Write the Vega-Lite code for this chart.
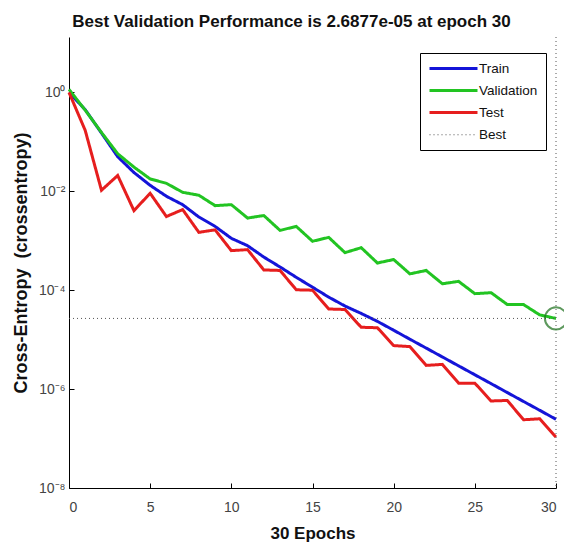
{
  "$schema": "https://vega.github.io/schema/vega-lite/v6.json",
  "width": 487,
  "height": 451,
  "autosize": "none",
  "padding": {"left": 69, "top": 37, "right": 8, "bottom": 58},
  "config": {
    "view": {"stroke": null},
    "font": "Liberation Sans",
    "axis": {
      "grid": false,
      "domainColor": "#000",
      "domainWidth": 1,
      "tickColor": "#000",
      "tickSize": -5,
      "labelFont": "Liberation Sans",
      "labelFontSize": 14,
      "labelColor": "#444",
      "titleFont": "Liberation Sans",
      "titleFontSize": 17,
      "titleFontWeight": "bold",
      "titleColor": "#111"
    }
  },
  "title": {
    "text": "Best Validation Performance is 2.6877e-05 at epoch 30",
    "font": "Liberation Sans",
    "fontSize": 17,
    "fontWeight": "bold",
    "color": "#111",
    "anchor": "middle",
    "dx": -21,
    "offset": 6
  },
  "datasets": {
    "perf": [
      {"series": "Train", "epoch": 0, "value": 1},
      {"series": "Train", "epoch": 1, "value": 0.447},
      {"series": "Train", "epoch": 2, "value": 0.151},
      {"series": "Train", "epoch": 3, "value": 0.0501},
      {"series": "Train", "epoch": 4, "value": 0.024},
      {"series": "Train", "epoch": 5, "value": 0.0132},
      {"series": "Train", "epoch": 6, "value": 0.00794},
      {"series": "Train", "epoch": 7, "value": 0.00537},
      {"series": "Train", "epoch": 8, "value": 0.00302},
      {"series": "Train", "epoch": 9, "value": 0.00195},
      {"series": "Train", "epoch": 10, "value": 0.00112},
      {"series": "Train", "epoch": 11, "value": 0.000794},
      {"series": "Train", "epoch": 12, "value": 0.000468},
      {"series": "Train", "epoch": 13, "value": 0.000295},
      {"series": "Train", "epoch": 14, "value": 0.000182},
      {"series": "Train", "epoch": 15, "value": 0.000115},
      {"series": "Train", "epoch": 16, "value": 7.24e-5},
      {"series": "Train", "epoch": 17, "value": 4.79e-5},
      {"series": "Train", "epoch": 18, "value": 3.39e-5},
      {"series": "Train", "epoch": 19, "value": 2.34e-5},
      {"series": "Train", "epoch": 20, "value": 1.55e-5},
      {"series": "Train", "epoch": 21, "value": 1.02e-5},
      {"series": "Train", "epoch": 22, "value": 6.76e-6},
      {"series": "Train", "epoch": 23, "value": 4.47e-6},
      {"series": "Train", "epoch": 24, "value": 2.95e-6},
      {"series": "Train", "epoch": 25, "value": 1.95e-6},
      {"series": "Train", "epoch": 26, "value": 1.29e-6},
      {"series": "Train", "epoch": 27, "value": 8.51e-7},
      {"series": "Train", "epoch": 28, "value": 5.62e-7},
      {"series": "Train", "epoch": 29, "value": 3.72e-7},
      {"series": "Train", "epoch": 30, "value": 2.45e-7},
      {"series": "Validation", "epoch": 0, "value": 1.15},
      {"series": "Validation", "epoch": 1, "value": 0.437},
      {"series": "Validation", "epoch": 2, "value": 0.155},
      {"series": "Validation", "epoch": 3, "value": 0.0575},
      {"series": "Validation", "epoch": 4, "value": 0.0309},
      {"series": "Validation", "epoch": 5, "value": 0.0178},
      {"series": "Validation", "epoch": 6, "value": 0.0145},
      {"series": "Validation", "epoch": 7, "value": 0.00955},
      {"series": "Validation", "epoch": 8, "value": 0.00832},
      {"series": "Validation", "epoch": 9, "value": 0.00513},
      {"series": "Validation", "epoch": 10, "value": 0.00537},
      {"series": "Validation", "epoch": 11, "value": 0.00288},
      {"series": "Validation", "epoch": 12, "value": 0.00324},
      {"series": "Validation", "epoch": 13, "value": 0.00162},
      {"series": "Validation", "epoch": 14, "value": 0.00195},
      {"series": "Validation", "epoch": 15, "value": 0.000977},
      {"series": "Validation", "epoch": 16, "value": 0.00117},
      {"series": "Validation", "epoch": 17, "value": 0.000575},
      {"series": "Validation", "epoch": 18, "value": 0.000724},
      {"series": "Validation", "epoch": 19, "value": 0.000355},
      {"series": "Validation", "epoch": 20, "value": 0.000417},
      {"series": "Validation", "epoch": 21, "value": 0.000214},
      {"series": "Validation", "epoch": 22, "value": 0.000251},
      {"series": "Validation", "epoch": 23, "value": 0.000135},
      {"series": "Validation", "epoch": 24, "value": 0.000151},
      {"series": "Validation", "epoch": 25, "value": 8.51e-5},
      {"series": "Validation", "epoch": 26, "value": 8.91e-5},
      {"series": "Validation", "epoch": 27, "value": 5.13e-5},
      {"series": "Validation", "epoch": 28, "value": 5.13e-5},
      {"series": "Validation", "epoch": 29, "value": 3.16e-5},
      {"series": "Validation", "epoch": 30, "value": 2.6877e-5},
      {"series": "Test", "epoch": 0, "value": 1},
      {"series": "Test", "epoch": 1, "value": 0.17},
      {"series": "Test", "epoch": 2, "value": 0.0105},
      {"series": "Test", "epoch": 3, "value": 0.0209},
      {"series": "Test", "epoch": 4, "value": 0.00407},
      {"series": "Test", "epoch": 5, "value": 0.00912},
      {"series": "Test", "epoch": 6, "value": 0.00309},
      {"series": "Test", "epoch": 7, "value": 0.00427},
      {"series": "Test", "epoch": 8, "value": 0.00148},
      {"series": "Test", "epoch": 9, "value": 0.00166},
      {"series": "Test", "epoch": 10, "value": 0.000631},
      {"series": "Test", "epoch": 11, "value": 0.000661},
      {"series": "Test", "epoch": 12, "value": 0.000257},
      {"series": "Test", "epoch": 13, "value": 0.000251},
      {"series": "Test", "epoch": 14, "value": 0.000102},
      {"series": "Test", "epoch": 15, "value": 0.0001},
      {"series": "Test", "epoch": 16, "value": 4.17e-5},
      {"series": "Test", "epoch": 17, "value": 4.07e-5},
      {"series": "Test", "epoch": 18, "value": 1.78e-5},
      {"series": "Test", "epoch": 19, "value": 1.74e-5},
      {"series": "Test", "epoch": 20, "value": 7.59e-6},
      {"series": "Test", "epoch": 21, "value": 7.24e-6},
      {"series": "Test", "epoch": 22, "value": 3.02e-6},
      {"series": "Test", "epoch": 23, "value": 3.16e-6},
      {"series": "Test", "epoch": 24, "value": 1.32e-6},
      {"series": "Test", "epoch": 25, "value": 1.32e-6},
      {"series": "Test", "epoch": 26, "value": 5.75e-7},
      {"series": "Test", "epoch": 27, "value": 5.89e-7},
      {"series": "Test", "epoch": 28, "value": 2.4e-7},
      {"series": "Test", "epoch": 29, "value": 2.51e-7},
      {"series": "Test", "epoch": 30, "value": 1.07e-7},
      {"series": "Best", "epoch": 0, "value": 2.6877e-5},
      {"series": "Best", "epoch": 30, "value": 2.6877e-5}
    ],
    "best": [
      {"epoch": 30, "value": 2.6877e-5}
    ]
  },
  "layer": [
    {
      "data": {"name": "perf"},
      "mark": {"type": "line", "clip": false},
      "encoding": {
        "x": {
          "field": "epoch",
          "type": "quantitative",
          "scale": {"domain": [0, 30], "nice": false, "zero": false},
          "axis": {
            "values": [0, 5, 10, 15, 20, 25, 30],
            "title": "30 Epochs",
            "labelPadding": 17,
            "titlePadding": 11
          }
        },
        "y": {
          "field": "value",
          "type": "quantitative",
          "scale": {"type": "log", "domain": [1e-8, 13.2], "nice": false},
          "axis": {
            "values": [1e-8, 1e-6, 1e-4, 0.01, 1],
            "title": "Cross-Entropy\u00a0\u00a0(crossentropy)",
            "titleFontSize": 18,
            "labelExpr": "datum.value > 0.1 ? '10⁰' : datum.value > 0.001 ? '10⁻²' : datum.value > 0.00001 ? '10⁻⁴' : datum.value > 0.0000001 ? '10⁻⁶' : '10⁻⁸'",
            "labelPadding": 9,
            "titlePadding": 8
          }
        },
        "color": {
          "field": "series",
          "type": "nominal",
          "scale": {
            "domain": ["Train", "Validation", "Test", "Best"],
            "range": ["#1414d8", "#22c422", "#e61e1e", "#555555"]
          },
          "legend": {
            "title": null,
            "orient": "none",
            "legendX": 351,
            "legendY": 16,
            "symbolType": "M-1,0H7",
            "symbolSize": 144,
            "symbolStrokeWidth": 3,
            "labelFont": "Liberation Sans",
            "labelFontSize": 13.5,
            "labelColor": "#111",
            "labelOffset": 36,
            "rowPadding": 8,
            "padding": 8,
            "strokeColor": "#000",
            "fillColor": "#fff"
          }
        },
        "strokeDash": {
          "field": "series",
          "type": "nominal",
          "scale": {
            "domain": ["Train", "Validation", "Test", "Best"],
            "range": [[1, 0], [1, 0], [1, 0], [1, 3]]
          },
          "legend": {"title": null}
        },
        "strokeWidth": {
          "field": "series",
          "type": "nominal",
          "scale": {
            "type": "ordinal",
            "domain": ["Train", "Validation", "Test", "Best"],
            "range": [3, 3, 3, 1]
          },
          "legend": {"title": null}
        }
      }
    },
    {
      "data": {"name": "best"},
      "mark": {"type": "rule", "strokeDash": [1, 3], "color": "#555555", "strokeWidth": 1},
      "encoding": {"x": {"field": "epoch", "type": "quantitative"}}
    },
    {
      "data": {"name": "best"},
      "mark": {"type": "point", "shape": "circle", "filled": false, "size": 490, "color": "#1a6e1a", "strokeWidth": 2, "clip": false},
      "encoding": {
        "x": {"field": "epoch", "type": "quantitative"},
        "y": {"field": "value", "type": "quantitative"}
      }
    }
  ]
}
